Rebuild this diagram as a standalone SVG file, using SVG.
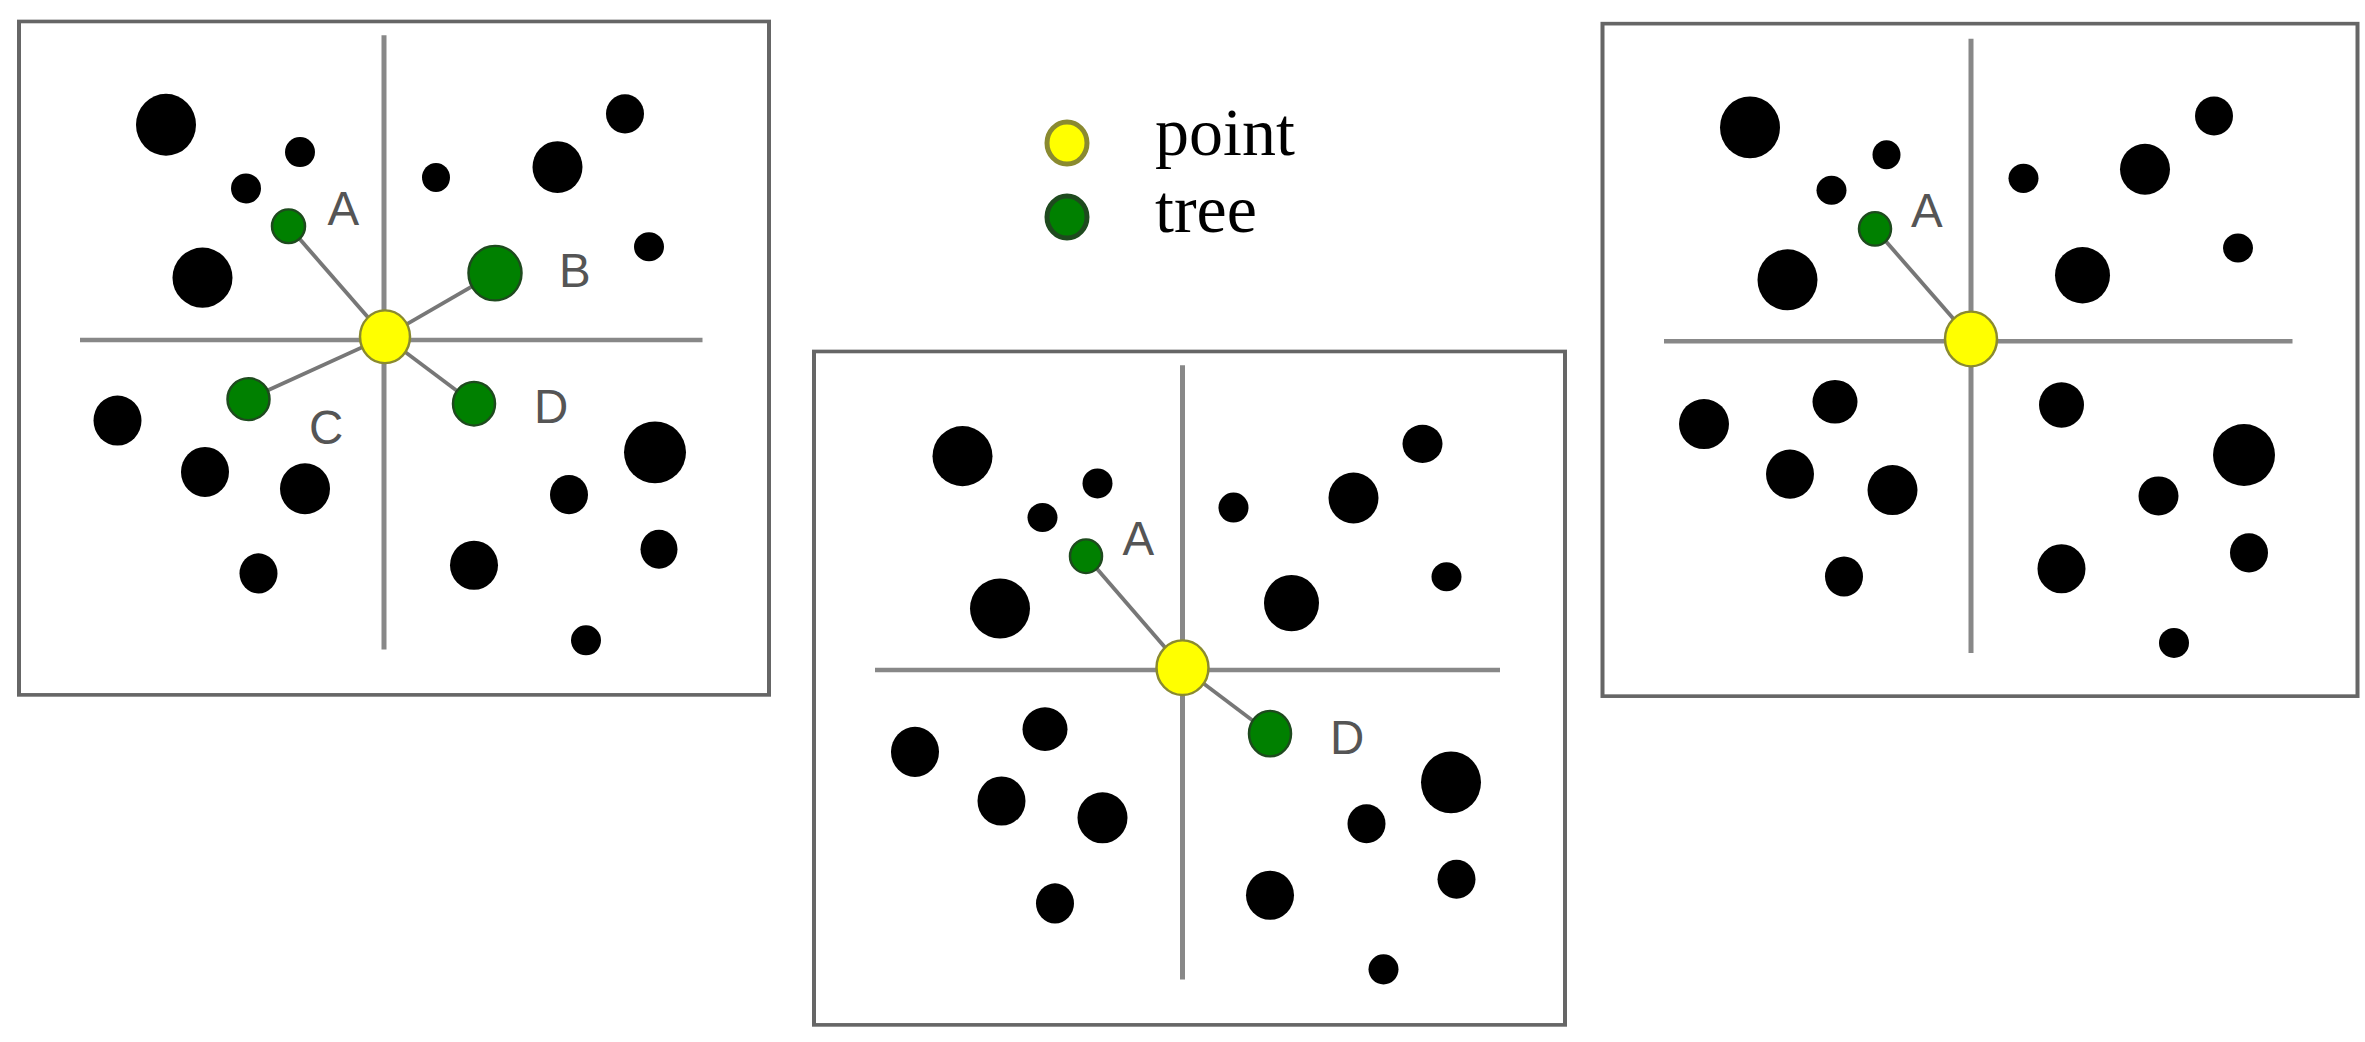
<svg xmlns="http://www.w3.org/2000/svg" width="2365" height="1042" viewBox="0 0 2365 1042">
<style>
.frame{fill:#fff;stroke:#666;stroke-width:8}
.axis{stroke:#888;stroke-width:10}
.link{stroke:#777;stroke-width:8}
.dot{fill:#000}
.tree{fill:#008000;stroke:#1e4a1e;stroke-width:5}
.pt{fill:#ffff00;stroke:#8a8a30;stroke-width:5}
.lbl{font-family:"Liberation Sans",Arial,sans-serif;font-size:95px;fill:#555}
.leg{font-family:"Liberation Serif","Times New Roman",serif;font-size:68px;fill:#000}
</style>
<rect width="2365" height="1042" fill="#fff"/>
<g id="panel1" transform="translate(0,1) scale(0.5,0.455)">
<rect class="frame" x="38" y="45" width="1500" height="1480"/>
<line class="axis" x1="768" y1="75" x2="768" y2="1425"/>
<line class="axis" x1="160" y1="745" x2="1405" y2="745"/>
<g class="dot">
<ellipse cx="332" cy="272" rx="60" ry="68"/><ellipse cx="600" cy="332" rx="30" ry="33"/>
<ellipse cx="492" cy="412" rx="30" ry="33"/><ellipse cx="872" cy="388" rx="28" ry="32"/>
<ellipse cx="1115" cy="365" rx="50" ry="57"/><ellipse cx="1250" cy="248" rx="38" ry="43"/>
<ellipse cx="1298" cy="540" rx="30" ry="32"/><ellipse cx="405" cy="608" rx="60" ry="66"/>
<ellipse cx="235" cy="922" rx="48" ry="55"/><ellipse cx="410" cy="1035" rx="48" ry="55"/>
<ellipse cx="610" cy="1072" rx="50" ry="56"/><ellipse cx="517" cy="1258" rx="38" ry="44"/>
<ellipse cx="948" cy="1240" rx="48" ry="54"/><ellipse cx="1138" cy="1085" rx="38" ry="43"/>
<ellipse cx="1310" cy="992" rx="62" ry="68"/><ellipse cx="1318" cy="1205" rx="37" ry="43"/>
<ellipse cx="1172" cy="1405" rx="30" ry="33"/>
</g>
<g id="links1">
<line class="link" x1="770" y1="738" x2="577" y2="495"/><line class="link" x1="770" y1="738" x2="990" y2="598"/>
<line class="link" x1="770" y1="738" x2="497" y2="875"/><line class="link" x1="770" y1="738" x2="948" y2="885"/>
</g>
<ellipse class="tree" cx="577" cy="495" rx="33" ry="37"/><ellipse class="tree" cx="990" cy="598" rx="53" ry="60"/>
<ellipse class="tree" cx="497" cy="875" rx="42" ry="46"/><ellipse class="tree" cx="948" cy="885" rx="42" ry="48"/>
<ellipse class="pt" cx="770" cy="738" rx="50" ry="58"/>
<g transform="scale(1,1.1)">
<text class="lbl" x="655" y="447">A</text><text class="lbl" x="1118" y="571">B</text>
<text class="lbl" x="618" y="886">C</text><text class="lbl" x="1068" y="844">D</text>
</g>
</g>
<g id="panel2" transform="translate(800,331) scale(0.5,0.455)">
<rect class="frame" x="28" y="45" width="1502" height="1480"/>
<line class="axis" x1="765" y1="75" x2="765" y2="1425"/>
<line class="axis" x1="150" y1="745" x2="1400" y2="745"/>
<g class="dot">
<ellipse cx="325" cy="275" rx="60" ry="66"/><ellipse cx="595" cy="335" rx="30" ry="33"/>
<ellipse cx="485" cy="410" rx="30" ry="32"/><ellipse cx="867" cy="388" rx="30" ry="33"/>
<ellipse cx="1107" cy="367" rx="50" ry="56"/><ellipse cx="1245" cy="248" rx="40" ry="42"/>
<ellipse cx="1293" cy="540" rx="30" ry="32"/><ellipse cx="400" cy="610" rx="60" ry="66"/>
<ellipse cx="983" cy="598" rx="55" ry="62"/><ellipse cx="230" cy="925" rx="48" ry="55"/>
<ellipse cx="490" cy="875" rx="45" ry="48"/><ellipse cx="403" cy="1033" rx="48" ry="54"/>
<ellipse cx="605" cy="1070" rx="50" ry="56"/><ellipse cx="510" cy="1258" rx="38" ry="44"/>
<ellipse cx="940" cy="1240" rx="48" ry="54"/><ellipse cx="1133" cy="1083" rx="38" ry="43"/>
<ellipse cx="1302" cy="992" rx="60" ry="68"/><ellipse cx="1313" cy="1205" rx="38" ry="43"/>
<ellipse cx="1167" cy="1403" rx="30" ry="33"/>
</g>
<g id="links2">
<line class="link" x1="765" y1="740" x2="572" y2="495"/><line class="link" x1="765" y1="740" x2="940" y2="885"/>
</g>
<ellipse class="tree" cx="572" cy="495" rx="32" ry="37"/><ellipse class="tree" cx="940" cy="885" rx="42" ry="50"/>
<ellipse class="pt" cx="765" cy="740" rx="52" ry="60"/>
<g transform="scale(1,1.1)">
<text class="lbl" x="645" y="447">A</text><text class="lbl" x="1060" y="845">D</text>
</g>
</g>
<g id="panel3" transform="translate(1590,0) scale(0.5,0.455)">
<rect class="frame" x="25" y="52" width="1510" height="1478"/>
<line class="axis" x1="762" y1="85" x2="762" y2="1435"/>
<line class="axis" x1="148" y1="750" x2="1405" y2="750"/>
<g class="dot">
<ellipse cx="320" cy="280" rx="60" ry="68"/><ellipse cx="593" cy="340" rx="28" ry="32"/>
<ellipse cx="483" cy="418" rx="30" ry="32"/><ellipse cx="867" cy="392" rx="30" ry="32"/>
<ellipse cx="1110" cy="372" rx="50" ry="56"/><ellipse cx="1248" cy="255" rx="38" ry="43"/>
<ellipse cx="1296" cy="545" rx="30" ry="32"/><ellipse cx="395" cy="615" rx="60" ry="67"/>
<ellipse cx="985" cy="605" rx="55" ry="62"/><ellipse cx="228" cy="932" rx="50" ry="55"/>
<ellipse cx="490" cy="883" rx="45" ry="48"/><ellipse cx="943" cy="890" rx="45" ry="50"/>
<ellipse cx="400" cy="1042" rx="48" ry="54"/><ellipse cx="605" cy="1077" rx="50" ry="55"/>
<ellipse cx="508" cy="1267" rx="38" ry="44"/><ellipse cx="943" cy="1250" rx="48" ry="54"/>
<ellipse cx="1137" cy="1090" rx="40" ry="43"/><ellipse cx="1308" cy="1000" rx="62" ry="68"/>
<ellipse cx="1318" cy="1215" rx="38" ry="43"/><ellipse cx="1168" cy="1413" rx="30" ry="33"/>
</g>
<g id="links3">
<line class="link" x1="762" y1="745" x2="570" y2="503"/>
</g>
<ellipse class="tree" cx="570" cy="503" rx="32" ry="37"/>
<ellipse class="pt" cx="762" cy="745" rx="52" ry="60"/>
<g transform="scale(1,1.1)">
<text class="lbl" x="642" y="453">A</text>
</g>
</g>
<g id="legend">
<ellipse class="pt" cx="1067" cy="143" rx="20" ry="21" stroke-width="3"/>
<ellipse class="tree" cx="1067" cy="217" rx="20" ry="21" stroke-width="3"/>
<text class="leg" x="1155" y="155">point</text>
<text class="leg" x="1155" y="232">tree</text>
</g>
</svg>
